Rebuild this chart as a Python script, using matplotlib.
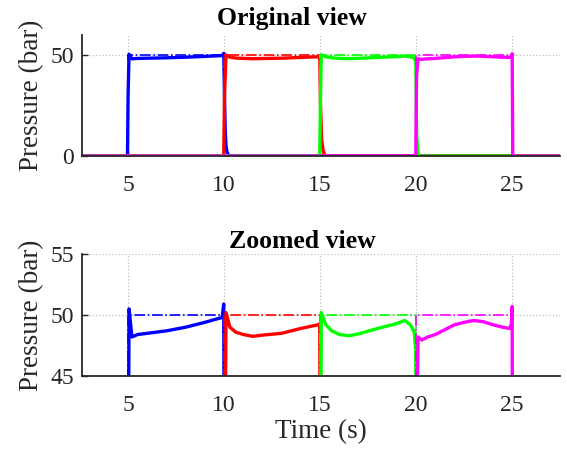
import matplotlib.pyplot as plt

plt.rcParams['font.family'] = ['Liberation Serif', 'DejaVu Serif']

t_blue = [2.6, 4.97, 5.0, 5.05, 5.2, 5.5, 6.0, 7.0, 8.0, 9.0, 9.9, 9.98, 10.02, 10.06, 10.1, 10.15, 10.25, 27.5]
p_blue = [0.0, 0.0, 30.0, 50.5, 48.2, 48.4, 48.5, 48.7, 49.0, 49.4, 49.8, 50.9, 30.0, 12.0, 5.0, 2.0, 0.0, 0.0]

t_red = [2.6, 9.98, 10.02, 10.1, 10.3, 10.6, 11.0, 11.5, 12.0, 13.0, 14.0, 14.9, 14.98, 15.02, 15.08, 15.15, 15.25, 27.5]
p_red = [0.0, 0.0, 30.0, 50.2, 49.0, 48.6, 48.4, 48.25, 48.35, 48.5, 48.9, 49.2, 49.3, 25.0, 8.0, 3.0, 0.0, 0.0]

t_green = [2.6, 14.98, 15.02, 15.06, 15.3, 15.6, 16.0, 16.5, 17.0, 18.0, 19.0, 19.4, 19.7, 19.9, 19.98, 20.03, 20.1, 27.5]
p_green = [0.0, 0.0, 30.0, 50.2, 49.2, 48.7, 48.4, 48.3, 48.45, 48.9, 49.3, 49.55, 49.2, 48.6, 47.0, 10.0, 0.0, 0.0]

t_magenta = [2.6, 19.98, 20.02, 20.1, 20.3, 20.6, 21.0, 21.5, 22.0, 22.5, 23.0, 23.5, 24.0, 24.5, 24.85, 24.95, 25.0, 25.03, 27.5]
p_magenta = [0.0, 0.0, 40.0, 48.2, 47.95, 48.2, 48.4, 48.8, 49.2, 49.4, 49.55, 49.45, 49.2, 49.0, 48.9, 49.2, 50.7, 0.0, 0.0]

# setpoints (dash-dot)
t_ref = [[2.6, 5.0, 5.0, 10.0, 10.0, 27.5],
         [2.6, 10.0, 10.0, 15.0, 15.0, 27.5],
         [2.6, 15.0, 15.0, 20.0, 20.0, 27.5],
         [2.6, 20.0, 20.0, 25.0, 25.0, 27.5]]
p_ref = [[0, 0, 50, 50, 0, 0]] * 4

colors = ['#0000ff', '#ff0000', '#00ff00', '#ff00ff']
traces = [(t_blue, p_blue), (t_red, p_red), (t_green, p_green), (t_magenta, p_magenta)]

fig = plt.figure(figsize=(5.67, 4.49), dpi=100)
ax1 = fig.add_axes([0.1446, 0.6526, 0.8434, 0.2694])
ax2 = fig.add_axes([0.1446, 0.1626, 0.8434, 0.2717])

for ax in (ax1, ax2):
    for i in range(4):
        ax.plot(traces[i][0], traces[i][1], color=colors[i], lw=2.4)
        ax.plot(t_ref[i], p_ref[i], color=colors[i], lw=1.2, ls='-.')
    ax.set_xlim(2.6, 27.5)
    ax.set_xticks([5, 10, 15, 20, 25])
    ax.grid(True, ls=':', color='#bfbfbf', lw=0.9)
    ax.set_axisbelow(True)
    for s in ('top', 'right'):
        ax.spines[s].set_visible(False)
    for s in ('left', 'bottom'):
        ax.spines[s].set_color('#262626')
        ax.spines[s].set_linewidth(1.3)
    ax.tick_params(direction='in', length=4, width=1, color='#262626',
                   labelsize=17, labelcolor='#262626', pad=6)
    ax.tick_params(axis='x', pad=14)
    ax.set_ylabel('Pressure (bar)', fontsize=19.5, color='#262626', labelpad=4)

ax1.set_ylim(0, 60)
ax1.set_yticks([0, 50])
ax1.set_title('Original view', fontsize=18.5, fontweight='bold', x=0.44, pad=7)

ax2.set_ylim(45, 55)
ax2.set_yticks([45, 50, 55])
ax2.set_title('Zoomed view', fontsize=18.5, fontweight='bold', x=0.46, pad=4)
ax2.set_xlabel('Time (s)', fontsize=19.5, color='#262626', labelpad=2)

fig.savefig('out.png', dpi=100)
